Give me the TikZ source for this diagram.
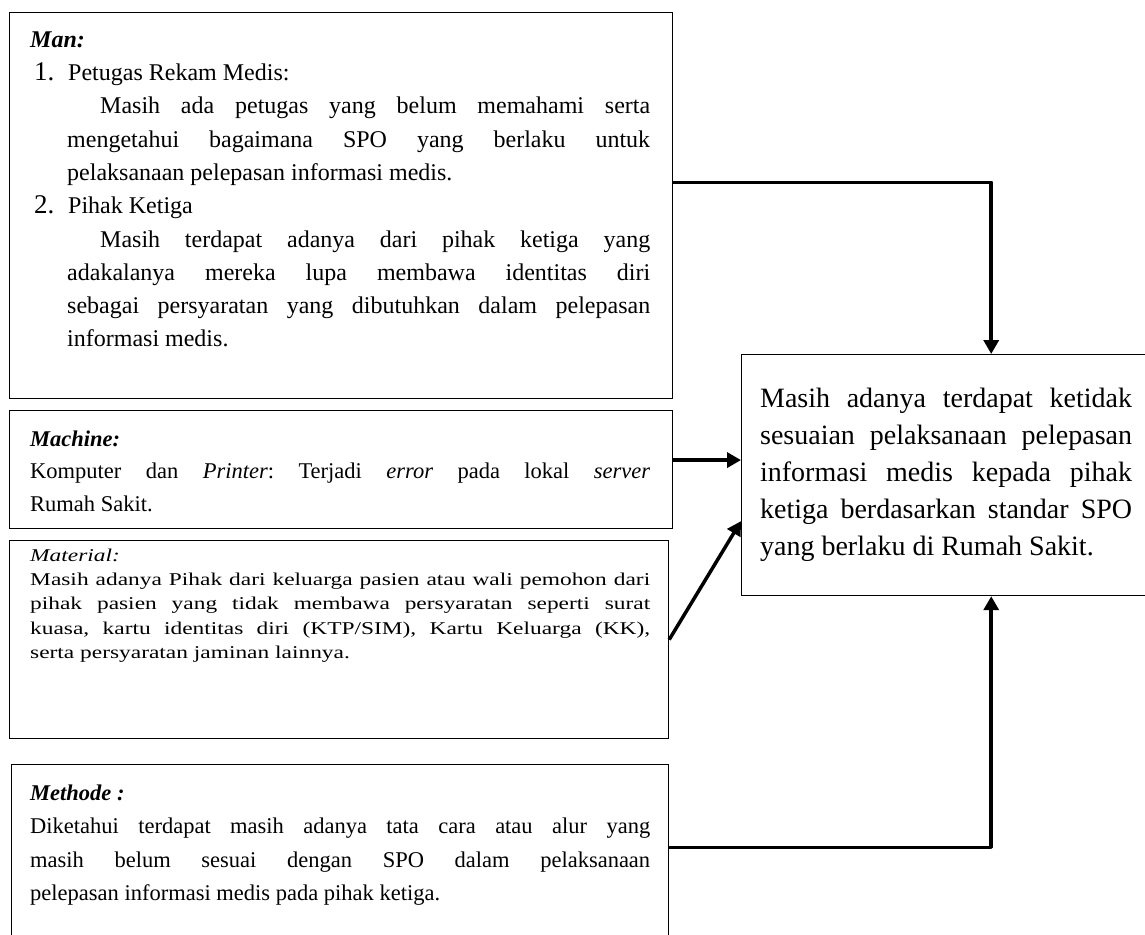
\documentclass[tikz,border=0pt]{standalone}
\usepackage{fontspec}
\setmainfont{Liberation Serif}
\newfontfamily\widefont[FakeStretch=1.3]{Liberation Serif}
\usetikzlibrary{arrows.meta,calc}
\setlength{\parindent}{0pt}
\frenchspacing

\definecolor{fbcolor0000}{RGB}{0,0,0}
\definecolor{fbcolor0001}{RGB}{255,255,255}

\begin{document}
\begin{tikzpicture}[yscale=-1
,bstyle0/.style={draw=fbcolor0000,line width=1.2pt,inner sep=0pt,anchor=north west}
,tstyle0/.style={anchor=north west,inner sep=0pt,text width=620pt,align=justify,font=\fontsize{22}{33.3}\selectfont}
,tstyle1/.style={tstyle0,font=\widefont\fontsize{18}{24.4}\selectfont}
,astyle0/.style={draw=fbcolor0000,line width=3.5pt,line join=round,-{Triangle[length=14pt,width=15pt]}}
]
\clip (0pt,0pt) rectangle (1145pt,934pt);
\fill[fbcolor0001] (0pt,0pt) rectangle (1145pt,934pt);
% boxes
\node[bstyle0,minimum width=663pt,minimum height=386pt] (man) at (9pt,12pt) {};
\node[bstyle0,minimum width=663pt,minimum height=118pt] (machine) at (9pt,410pt) {};
\node[bstyle0,minimum width=659pt,minimum height=198pt] (material) at (9pt,540pt) {};
\node[bstyle0,minimum width=657pt,minimum height=176pt] (methode) at (11pt,764pt) {};
\node[bstyle0,minimum width=409pt,minimum height=241pt,text width=372pt,align=justify,inner xsep=18.5pt,font=\fontsize{28}{37}\selectfont] (result) at (741pt,354pt) {Masih adanya terdapat ketidak\linebreak sesuaian pelaksanaan pelepasan\linebreak informasi medis kepada pihak\linebreak ketiga berdasarkan standar SPO\linebreak yang berlaku di Rumah Sakit.};
% texts
\node[tstyle0,font=\fontsize{24}{33.3}\selectfont] (man text) at (30pt,23.7pt) {\strut\textbf{\textit{Man:}}\par
\hspace*{4pt}\makebox[34pt][l]{\fontsize{27}{27}\selectfont 1.}Petugas Rekam Medis:\par
{\leftskip=37pt\hspace*{33pt}Masih ada petugas yang belum memahami serta\linebreak mengetahui bagaimana SPO yang berlaku untuk\linebreak pelaksanaan pelepasan informasi medis.\par}
\hspace*{4pt}\makebox[34pt][l]{\fontsize{27}{27}\selectfont 2.}Pihak Ketiga\par
{\leftskip=37pt\hspace*{33pt}Masih terdapat adanya dari pihak ketiga yang\linebreak adakalanya mereka lupa membawa identitas diri\linebreak sebagai persyaratan yang dibutuhkan dalam pelepasan\linebreak informasi medis.\par}};
\node[tstyle0,font=\fontsize{22.5}{32.5}\selectfont] (machine text) at (30pt,423.3pt) {\strut\textbf{\textit{Machine:}}\par
Komputer dan \textit{Printer}: Terjadi \textit{error} pada lokal \textit{server}\linebreak Rumah Sakit.};
\node[tstyle1] (material text) at (30pt,543.9pt) {\strut\textit{Material:}\par
Masih adanya Pihak dari keluarga pasien atau wali pemohon dari\linebreak pihak pasien yang tidak membawa persyaratan seperti surat\linebreak kuasa, kartu identitas diri (KTP/SIM), Kartu Keluarga (KK),\linebreak serta persyaratan jaminan lainnya.};
\node[tstyle0,font=\fontsize{22.5}{33.5}\selectfont] (methode text) at (30pt,776.5pt) {\strut\textbf{\textit{Methode :}}\par
Diketahui terdapat masih adanya tata cara atau alur yang\linebreak masih belum sesuai dengan SPO dalam pelaksanaan\linebreak pelepasan informasi medis pada pihak ketiga.};
% arrows
\coordinate (machine out) at ($(machine.north east)!0.42!(machine.south east)$);
\draw[astyle0] ($(man.north east)!0.44!(man.south east)$) -| ($(result.north west)!0.61!(result.north east)$);
\draw[astyle0] (machine out) -- (machine out -| result.west);
\draw[astyle0] (material.east) -- ($(result.north west)!0.69!(result.south west)$);
\draw[astyle0] ($(methode.north east)!0.47!(methode.south east)$) -| ($(result.south west)!0.61!(result.south east)$);
\end{tikzpicture}
\end{document}
